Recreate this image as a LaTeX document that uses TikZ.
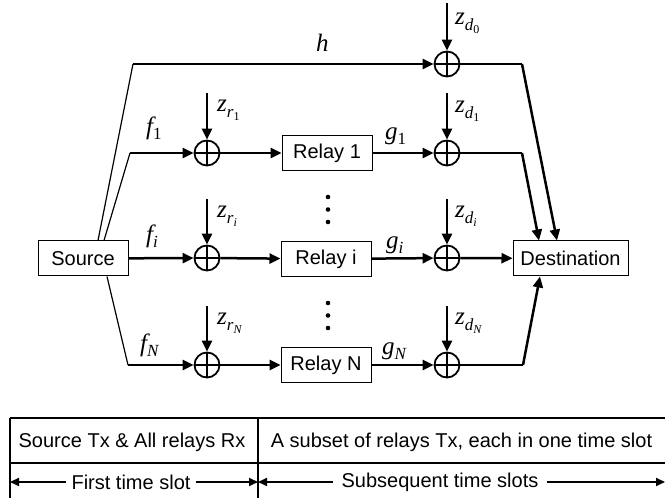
\documentclass[tikz,border=0pt]{standalone}
\usepackage{fontspec}
\setmainfont{Liberation Sans}
\newfontfamily\tms{Liberation Serif}
\newcommand{\mylab}[2]{{\tms\itshape #1}\raisebox{-5pt}{\fontsize{17}{17}\selectfont\tms #2}}
\newcommand{\myz}[2]{{\tms\itshape z}\raisebox{-6pt}{\fontsize{17}{17}\selectfont\tms\itshape #1\raisebox{-3pt}{\fontsize{12}{12}\selectfont #2}}}
\usetikzlibrary{arrows.meta}
\begin{document}
\begin{tikzpicture}[x=1pt,y=-1pt,
  box/.style={draw,line width=1pt,minimum width=90pt,minimum height=35pt,inner sep=0pt,font=\fontsize{20}{24}\selectfont},
  adder/.style={circle,draw,line width=1.8pt,minimum size=25pt,inner sep=0pt,
    path picture={\draw[line width=1.8pt] (path picture bounding box.north) -- (path picture bounding box.south)
      (path picture bounding box.west) -- (path picture bounding box.east);}},
  sig/.style={line width=2.5pt,-{Triangle[length=11pt,width=10pt]}},
  noise/.style={line width=2.2pt,-{Triangle[length=11pt,width=10pt]}},
  thinline/.style={line width=1.2pt},
  lbl/.style={font=\fontsize{25}{28}\selectfont,inner sep=0pt,anchor=base west},
  tbl/.style={font=\fontsize{20}{24}\selectfont,inner sep=0pt},
  tline/.style={line width=1.2pt},
  tarrow/.style={line width=1.8pt,-{Triangle[length=9pt,width=8pt]}},
  dot/.style={fill=black}]
\useasboundingbox (0,0) rectangle (665,502);

% boxes
\node[box] (src) at (83,258.5) {Source};
\node[box] (r1) at (327,153) {Relay 1};
\node[box] (ri) at (326,259) {Relay i};
\node[box] (rN) at (326,365) {Relay N};
\node[box,minimum width=115pt] (dst) at (570.5,258.5) {Destination};

% adders
\node[adder] (ar1) at (207,153) {};
\node[adder] (ari) at (207,258) {};
\node[adder] (arN) at (207,365) {};
\node[adder] (ad0) at (447,64) {};
\node[adder] (ad1) at (447,153) {};
\node[adder] (adi) at (447,258) {};
\node[adder] (adN) at (447,365) {};

% source branches
\coordinate (hs) at (133,64);
\coordinate (f1s) at (130,153);
\coordinate (fNs) at (128,365);
\draw[thinline] ([xshift=15pt]src.north) -- (hs);
\draw[thinline] ([xshift=21pt]src.north) -- (f1s);
\draw[thinline] ([xshift=24pt]src.south) -- (fNs);
\draw[sig] (hs) -- (ad0);
\draw[sig] (f1s) -- (ar1);
\draw[sig] (src) -- (ari);
\draw[sig] (fNs) -- (arN);

% adders to relays, relays to adders
\draw[sig] (ar1) -- (r1);
\draw[sig] (ari) -- (ri);
\draw[sig] (arN) -- (rN);
\draw[sig] (r1) -- (ad1);
\draw[sig] (ri) -- (adi);
\draw[sig] (rN) -- (adN);

% noise inputs
\coordinate (nr1) at (207,93);
\coordinate (nri) at (207,199);
\coordinate (nrN) at (207,306);
\coordinate (nd0) at (447,3);
\coordinate (nd1) at (447,93);
\coordinate (ndi) at (447,199);
\coordinate (ndN) at (447,306);
\draw[noise] (nr1) -- (ar1);
\draw[noise] (nri) -- (ari);
\draw[noise] (nrN) -- (arN);
\draw[noise] (nd0) -- (ad0);
\draw[noise] (nd1) -- (ad1);
\draw[noise] (ndi) -- (adi);
\draw[noise] (ndN) -- (adN);

% to destination
\coordinate (b0) at (522,64);
\coordinate (b1) at (522,153);
\coordinate (bN) at (523,365);
\draw[thinline] (ad0) -- (b0);
\draw[thinline] (ad1) -- (b1);
\draw[thinline] (adN) -- (bN);
\draw[sig] (b0) -- ([xshift=-13.5pt]dst.north);
\draw[sig] (b1) -- ([xshift=-31.5pt]dst.north);
\draw[sig] (adi) -- (dst);
\draw[sig] (bN) -- ([xshift=-30.5pt]dst.south);

% labels
\node[lbl] (lh) at (316,52) {{\tms\itshape h}};
\node[lbl] (lf1) at (146,135) {\mylab{f}{1}};
\node[lbl] (lfi) at (146,243) {\mylab{f}{\itshape i}};
\node[lbl] (lfN) at (140,352) {\mylab{f}{\itshape N}};
\node[lbl] (lg1) at (385,140) {\mylab{g}{1}};
\node[lbl] (lgi) at (386,249) {\mylab{g}{\itshape i}};
\node[lbl] (lgN) at (382,355) {\mylab{g}{\itshape N}};
\node[lbl] (lzr1) at (217,112) {\myz{r}{\upshape 1}};
\node[lbl] (lzri) at (217,218) {\myz{r}{i}};
\node[lbl] (lzrN) at (217,325) {\myz{r}{N}};
\node[lbl] (lzd0) at (455,25) {\myz{d}{\upshape 0}};
\node[lbl] (lzd1) at (455,113) {\myz{d}{\upshape 1}};
\node[lbl] (lzdi) at (455,218) {\myz{d}{i}};
\node[lbl] (lzdN) at (455,325) {\myz{d}{N}};

% dots
\fill[dot] (328,197) circle (2.3pt) (328,209.5) circle (2.3pt) (328,222) circle (2.3pt);
\fill[dot] (328,303) circle (2.3pt) (328,315.5) circle (2.3pt) (328,328) circle (2.3pt);

% table
\draw[tline] (10,418) -- (665,418);
\draw[tline] (10,463) -- (665,463);
\draw[tline] (10,418) -- (10,498);
\draw[tline] (258,418) -- (258,498);
\node[tbl] (t1) at (132,442) {Source Tx \& All relays Rx};
\node[tbl] (t2) at (461.5,442) {A subset of relays Tx, each in one time slot};
\node[tbl] (t3) at (131,482) {First time slot};
\node[tbl] (t4) at (440,482) {Subsequent time slots};
\coordinate (e1) at (10,482);
\coordinate (e2) at (258,482);
\coordinate (e3) at (665,482);
\draw[tarrow] ([xshift=-5pt]t3.west) -- (e1);
\draw[tarrow] ([xshift=5pt]t3.east) -- (e2);
\draw[tarrow] ([xshift=-8pt]t4.west) -- (e2);
\draw[tarrow] ([xshift=8pt]t4.east) -- (e3);
\end{tikzpicture}
\end{document}
